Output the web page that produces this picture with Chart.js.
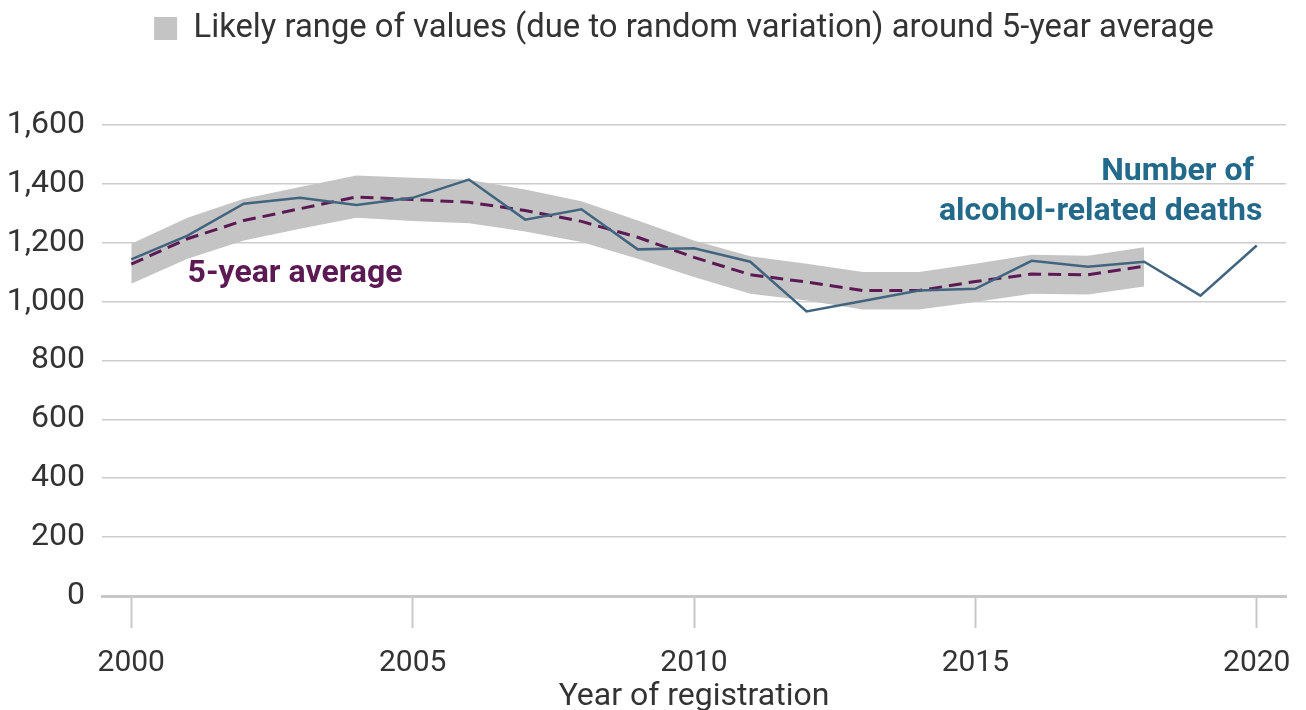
<!DOCTYPE html>
<html>
<head>
<meta charset="utf-8">
<script src="https://cdn.jsdelivr.net/npm/chart.js@4/dist/chart.umd.min.js"></script>
<style>
  html, body { margin: 0; padding: 0; background: #fff; }
  #wrap { width: 1306px; height: 710px; }
</style>
</head>
<body>
<div id="wrap"><canvas id="chart" width="1306" height="710"></canvas></div>
<script>
// Years of registration
const years = [2000, 2001, 2002, 2003, 2004, 2005, 2006, 2007, 2008, 2009, 2010,
               2011, 2012, 2013, 2014, 2015, 2016, 2017, 2018, 2019, 2020];
// Number of alcohol-related deaths
const deaths = [1143, 1224, 1332, 1352, 1328, 1352, 1414, 1278, 1313, 1177, 1181,
                1135, 966, 1002, 1037, 1043, 1138, 1118, 1135, 1020, 1190];
// 5-year average and the likely range around it (2000 to 2018 only)
const avgYears = [2000, 2001, 2002, 2003, 2004, 2005, 2006, 2007, 2008, 2009,
                  2010, 2011, 2012, 2013, 2014, 2015, 2016, 2017, 2018];
const average = [1127, 1213, 1275, 1315, 1355, 1346, 1337, 1309, 1272, 1218,
                 1150, 1091, 1066, 1037, 1037, 1068, 1093, 1091, 1120];
const upper = [1196, 1284, 1349, 1389, 1428, 1420, 1413, 1380, 1340, 1275,
               1207, 1154, 1128, 1100, 1100, 1128, 1159, 1155, 1184];
const lower = [1060, 1145, 1207, 1247, 1284, 1273, 1266, 1238, 1202, 1145,
               1083, 1026, 1003, 973, 973, 998, 1026, 1024, 1051];
// Tick labels
const xTicks = [2000, 2005, 2010, 2015, 2020];
const yTicks = [0, 200, 400, 600, 800, 1000, 1200, 1400, 1600];

const FONT = "Roboto, 'Liberation Sans', sans-serif";
const blue = "#42657f";
const purple = "#5c1a55";
const teal = "#23698a";
const band = "#c4c4c4";

// helper to pair x and y arrays into points
const pts = (xs, ys) => xs.map((x, i) => ({ x: x, y: ys[i] }));

// Legend tweaks: extra space below it, and nudged right like the reference
const legendSpace = {
  id: "legendSpace",
  beforeInit(chart) {
    const legend = chart.legend;
    const fit = legend.fit;
    legend.fit = function () {
      fit.bind(legend)();
      this.height += 70;
    };
    const draw = legend.draw;
    legend.draw = function () {
      const ctx = chart.ctx;
      ctx.save();
      ctx.translate(41, 0);
      draw.bind(legend)();
      ctx.restore();
    };
  }
};

// Bold line labels drawn next to the lines
const lineLabels = {
  id: "lineLabels",
  afterDatasetsDraw(chart) {
    const { ctx, scales: { x, y } } = chart;
    ctx.save();
    ctx.font = "bold 32px " + FONT;
    ctx.textBaseline = "middle";
    ctx.fillStyle = teal;
    ctx.textAlign = "right";
    ctx.fillText("Number of", x.getPixelForValue(2019.95), y.getPixelForValue(1440));
    ctx.fillText("alcohol-related deaths", x.getPixelForValue(2020.1), y.getPixelForValue(1303));
    ctx.fillStyle = purple;
    ctx.textAlign = "left";
    ctx.fillText("5-year average", x.getPixelForValue(2001.0), y.getPixelForValue(1094));
    ctx.restore();
  }
};

new Chart(document.getElementById("chart"), {
  type: "line",
  data: {
    datasets: [
      {
        label: "Number of alcohol-related deaths",
        data: pts(years, deaths),
        borderColor: blue,
        borderWidth: 2.5,
        pointRadius: 0,
        fill: false,
        tension: 0
      },
      {
        label: "5-year average",
        data: pts(avgYears, average),
        borderColor: purple,
        borderWidth: 3,
        borderDash: [13, 7],
        pointRadius: 0,
        fill: false,
        tension: 0
      },
      {
        label: "Likely range of values (due to random variation) around 5-year average",
        data: pts(avgYears, upper),
        borderColor: "rgba(0,0,0,0)",
        backgroundColor: band,
        borderWidth: 0,
        pointRadius: 0,
        fill: "+1",
        tension: 0
      },
      {
        label: "lower",
        data: pts(avgYears, lower),
        borderColor: "rgba(0,0,0,0)",
        backgroundColor: band,
        borderWidth: 0,
        pointRadius: 0,
        fill: false,
        tension: 0
      }
    ]
  },
  options: {
    responsive: false,
    animation: false,
    layout: { padding: { left: 0, right: 20, top: 4, bottom: 0 } },
    plugins: {
      tooltip: { enabled: false },
      legend: {
        display: true,
        position: "top",
        labels: {
          filter: (item) => item.datasetIndex === 2,
          boxWidth: 23,
          boxHeight: 23,
          color: "#333",
          padding: 8,
          font: { family: FONT, size: 32.8 }
        }
      }
    },
    scales: {
      x: {
        type: "linear",
        min: 1999.48,
        max: 2020.52,
        afterBuildTicks: (scale) => { scale.ticks = xTicks.map(v => ({ value: v })); },
        afterFit: (scale) => {
          scale.height = 114;
          scale.paddingLeft = 0;
          scale.paddingRight = 0;
        },
        ticks: {
          callback: (v) => String(v),
          color: "#333",
          padding: 17,
          maxRotation: 0,
          font: { family: FONT, size: 30 }
        },
        grid: {
          drawOnChartArea: false,
          drawTicks: true,
          tickLength: 32,
          tickColor: "#c8c8c8",
          tickWidth: 2
        },
        border: { display: true, color: "#c8c8c8", width: 3 },
        title: {
          display: true,
          text: "Year of registration",
          color: "#333",
          padding: { top: 0, bottom: -3 },
          font: { family: FONT, size: 32, lineHeight: 1.0 }
        }
      },
      y: {
        min: 0,
        max: 1600,
        afterBuildTicks: (scale) => { scale.ticks = yTicks.map(v => ({ value: v })); },
        afterFit: (scale) => { scale.width = 102; },
        ticks: {
          color: "#333",
          padding: 17,
          font: { family: FONT, size: 32 },
          callback: (v) => v.toLocaleString("en-US")
        },
        grid: { color: "#cccccc", lineWidth: 1.5, drawTicks: false },
        border: { display: false }
      }
    }
  },
  plugins: [legendSpace, lineLabels]
});
</script>
</body>
</html>
